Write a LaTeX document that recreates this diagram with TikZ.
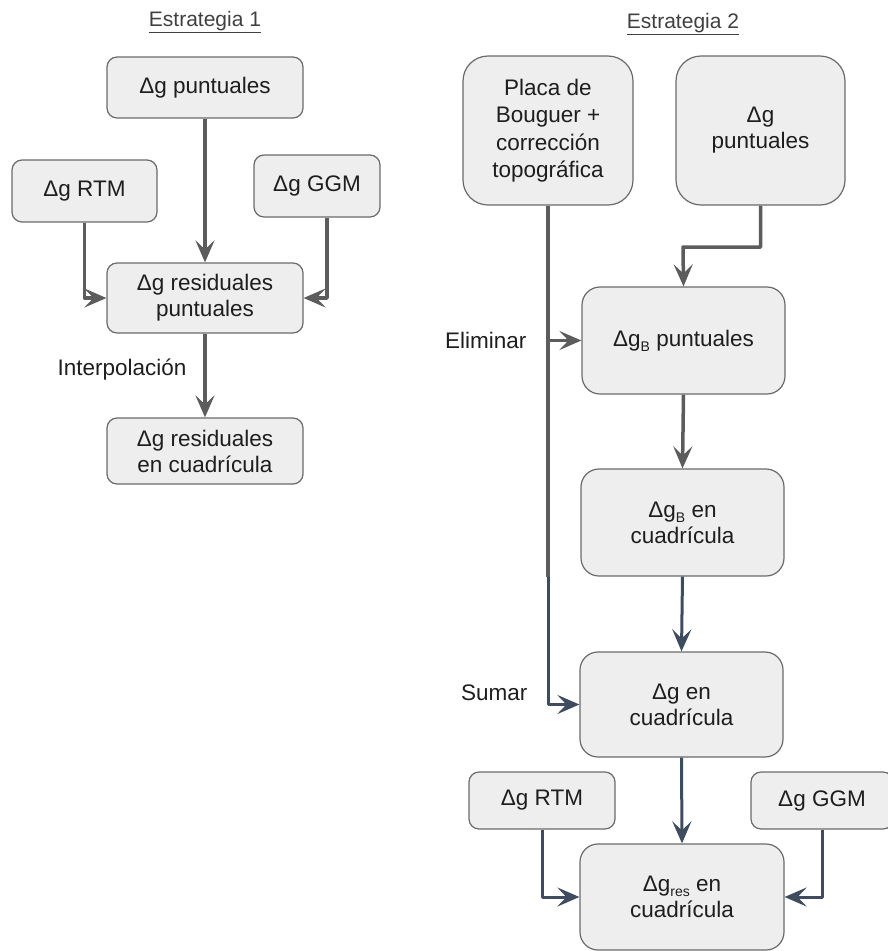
\documentclass[tikz,border=0pt]{standalone}
\usepackage{fontspec}
\setmainfont{Liberation Sans}
\usetikzlibrary{arrows.meta}
\definecolor{boxfill}{HTML}{EEEEEE}
\definecolor{boxline}{HTML}{6A6A6A}
\definecolor{arrgray}{HTML}{5C5C5C}
\definecolor{arrblue}{HTML}{3F4B5E}
\definecolor{txt}{HTML}{1E1E1E}
\newcommand{\lowsub}[1]{\raisebox{-5pt}{\fontsize{14}{14}\selectfont #1}}

\begin{document}
\begin{tikzpicture}[x=1pt,y=-1pt,line join=round,text=txt,font=\fontsize{22.5}{26}\selectfont]
\tikzstyle{box} = [draw=boxline,fill=boxfill,line width=1.2pt,rounded corners=10pt,align=center,inner sep=0pt]
\tikzstyle{big box} = [box,rounded corners=18pt]
\tikzstyle{link} = [draw=arrgray,line width=3.5pt,-{Stealth[length=22pt,width=19pt,inset=9pt]}]
\tikzstyle{link blue} = [link,draw=arrblue,line width=3pt]
\tikzstyle{title} = [font=\fontsize{21}{24}\selectfont,text=black!75]

\useasboundingbox (0,0) rectangle (887,951);

% Estrategia 1
\node[title] (T1) at (205,22) {\underline{Estrategia 1}};
\node[box,minimum width=196pt,minimum height=61pt] (P1) at (205,87.5) {Δg puntuales};
\node[box,minimum width=145pt,minimum height=62pt] (RTM1) at (84.5,191) {Δg RTM};
\node[box,minimum width=126pt,minimum height=62pt] (GGM1) at (317,186) {Δg GGM};
\node[box,minimum width=196pt,minimum height=70pt] (R1) at (205,298) {Δg residuales\\puntuales};
\node[box,minimum width=196pt,minimum height=66pt] (C1) at (205,451) {Δg residuales\\en cuadrícula};

\draw[link] (P1.south) -- (R1.north);
\draw[link] (RTM1.south) |- (R1.west);
\draw[link] ([xshift=10pt]GGM1.south) |- (R1.east);
\draw[link] (R1.south) -- (C1.north);
\node[anchor=east] (I1) at (190,370) {Interpolación};

% Estrategia 2
\node[title] (T2) at (683,24) {\underline{Estrategia 2}};
\node[box,rounded corners=25pt,minimum width=170pt,minimum height=149pt,font=\fontsize{22.5}{27.5}\selectfont] (PB) at (548,130.5) {Placa de\\Bouguer +\\corrección\\topográfica};
\node[box,rounded corners=25pt,minimum width=169pt,minimum height=149pt] (P2) at (760.5,130.5) {Δg\\puntuales};
\node[big box,minimum width=203pt,minimum height=107pt] (B1) at (683.5,340.5) {Δg\lowsub{B} puntuales};
\node[big box,minimum width=203pt,minimum height=107pt] (B2) at (682.5,522.5) {Δg\lowsub{B} en\\cuadrícula};
\node[big box,minimum width=203pt,minimum height=105pt] (G2) at (681.5,704.5) {Δg en\\cuadrícula};
\node[box,minimum width=146pt,minimum height=57pt] (RTM2) at (542,800.5) {Δg RTM};
\node[box,minimum width=142pt,minimum height=57pt] (GGM2) at (822,800.5) {Δg GGM};
\node[big box,minimum width=204pt,minimum height=106pt] (R2) at (682,897) {Δg\lowsub{res} en\\cuadrícula};

\coordinate (k1) at (683,247);
\draw[link] (P2.south) |- (k1) -- (B1.north);
\draw[link] (PB.south) |- (B1.west);
\draw[draw=arrgray,line width=3.5pt] (PB.south) -- (PB.south |- B2.south);
\draw[link blue] (PB.south |- B2.south) |- (G2.west);
\draw[link] (B1.south) -- (B2.north);
\draw[link blue] (B2.south) -- (G2.north);
\draw[link blue] (G2.south) -- (R2.north);
\draw[link blue] (RTM2.south) |- (R2.west);
\draw[link blue] (GGM2.south) |- (R2.east);
\node[anchor=east] (E2) at (530,340) {Eliminar};
\node[anchor=east] (S2) at (531,693) {Sumar};

\end{tikzpicture}
\end{document}
